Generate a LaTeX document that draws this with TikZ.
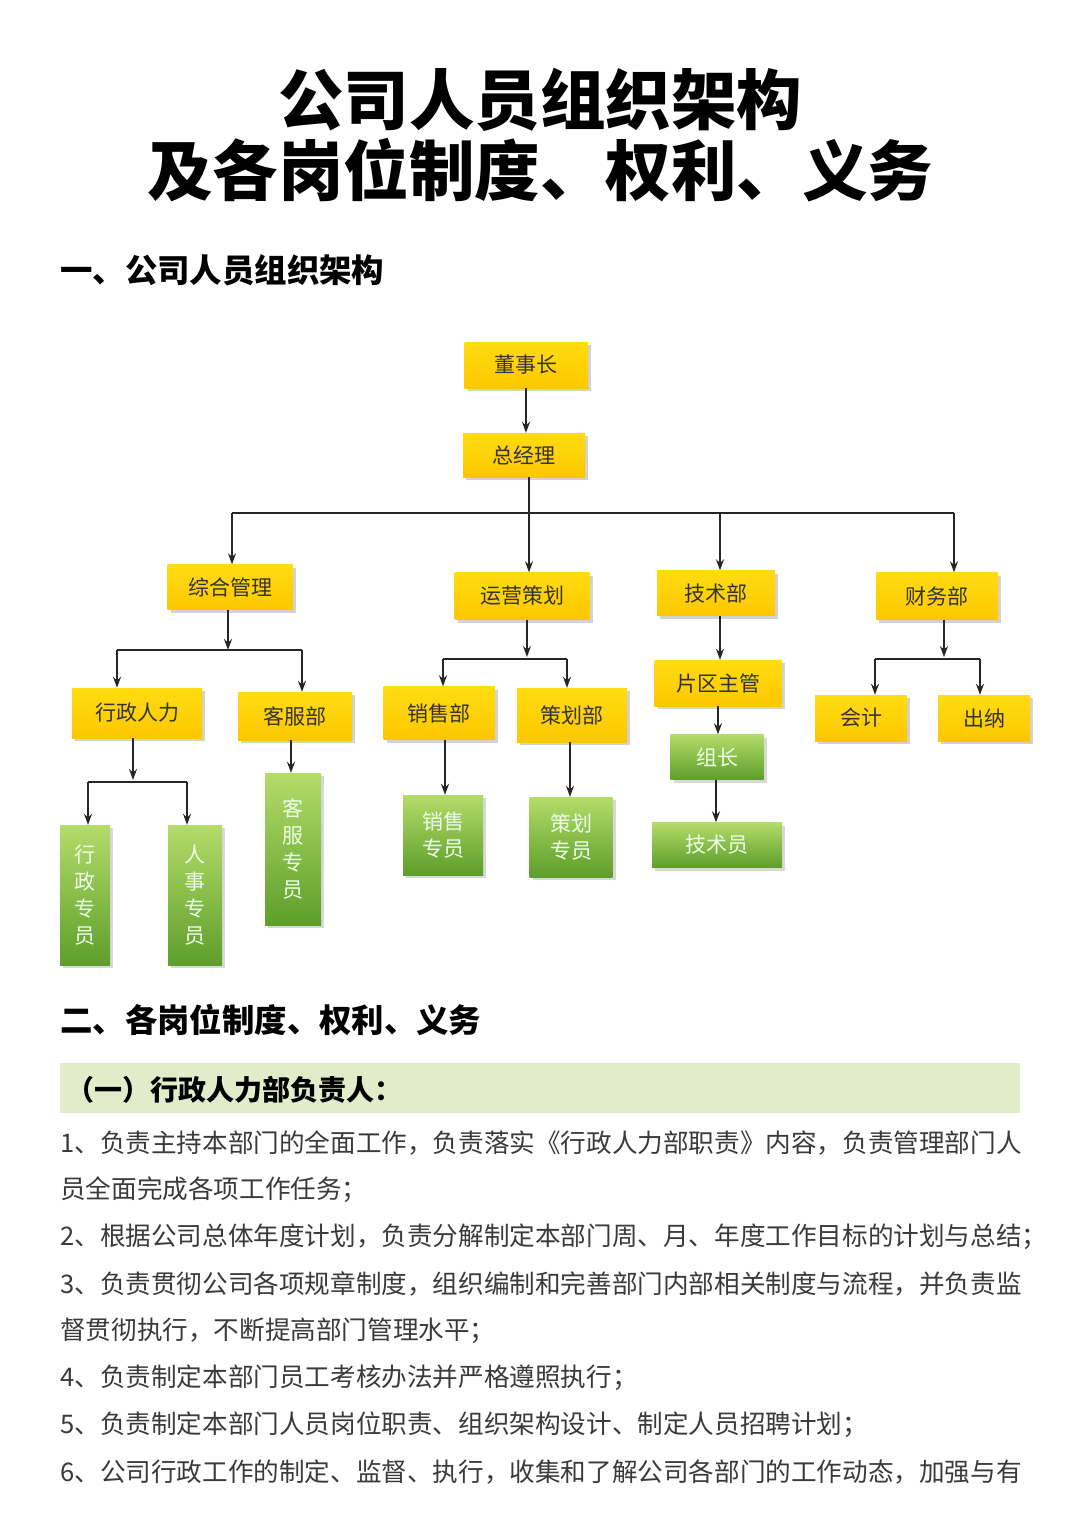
\documentclass[tikz,border=0pt]{standalone}
\usepackage{fontspec}
\setmainfont{Noto Sans CJK SC}
\usetikzlibrary{shadows,arrows.meta}
\definecolor{ybox}{HTML}{FDCB00}
\definecolor{ytop}{HTML}{FFDC10}
\definecolor{gtop}{HTML}{B4DC6A}
\definecolor{gbot}{HTML}{5E9E2A}
\definecolor{band}{HTML}{E2ECCB}
\definecolor{bodyc}{HTML}{3A3A3A}
\tikzset{
 ybx/.style={top color=ytop,bottom color=ybox!95!orange,minimum height=46pt,inner sep=2pt,font=\fontsize{21}{24}\selectfont,text=black!80,drop shadow={shadow xshift=3pt,shadow yshift=-3pt,opacity=0.35}},
 gbx/.style={top color=gtop,bottom color=gbot,inner sep=2pt,font=\fontsize{21}{27}\selectfont,text=white!92!green,drop shadow={shadow xshift=3pt,shadow yshift=-3pt,opacity=0.3},align=center},
 ln/.style={line width=1.3pt,black!85},
 arr/.style={ln,-{Stealth[length=11pt,width=8pt]}},
 body/.style={anchor=west,inner sep=0pt,text=bodyc,font=\fontsize{25.6}{27}\selectfont},
}
\begin{document}
\begin{tikzpicture}[x=1pt,y=-1pt]
\fill[white] (0,0) rectangle (1080,1529);
\useasboundingbox (0,0) rectangle (1080,1529);
\node[font=\fontsize{65.5}{72}\selectfont\bfseries] (t1) at (540,100) {公司人员组织架构};
\node[font=\fontsize{65.5}{72}\selectfont\bfseries] (t2) at (540,170) {及各岗位制度、权利、义务};
\node[anchor=west,inner sep=0pt,font=\fontsize{32.4}{36}\selectfont\bfseries] (s1) at (60,270) {一、公司人员组织架构};
% yellow boxes
\node[ybx,minimum width=123pt] (dsz) at (526,365) {董事长};
\node[ybx,minimum width=122pt,minimum height=44pt] (zjl) at (524,455) {总经理};
\node[ybx,minimum width=125pt,minimum height=45pt] (zh) at (230,587) {综合管理};
\node[ybx,minimum width=135pt,minimum height=47pt] (yy) at (522,596) {运营策划};
\node[ybx,minimum width=118pt,minimum height=45pt] (js) at (716,593) {技术部};
\node[ybx,minimum width=122pt,minimum height=47pt] (cw) at (937,596) {财务部};
\node[ybx,minimum width=130pt,minimum height=50pt] (xz) at (137,713) {行政人力};
\node[ybx,minimum width=114pt,minimum height=48pt] (kf) at (295,716) {客服部};
\node[ybx,minimum width=111pt,minimum height=53pt] (xs) at (439,713) {销售部};
\node[ybx,minimum width=110pt,minimum height=54pt] (ch) at (572,715) {策划部};
\node[ybx,minimum width=127pt,minimum height=46pt] (pq) at (718,683) {片区主管};
\node[ybx,minimum width=92pt,minimum height=46pt] (kj) at (861,718) {会计};
\node[ybx,minimum width=92pt,minimum height=46pt] (cn) at (984,718) {出纳};
% green boxes
\node[gbx,minimum width=50pt,minimum height=140pt] (xzzy) at (85,895) {行\\政\\专\\员};
\node[gbx,minimum width=54pt,minimum height=140pt] (rszy) at (195,895) {人\\事\\专\\员};
\node[gbx,minimum width=56pt,minimum height=152pt] (kfzy) at (293,849) {客\\服\\专\\员};
\node[gbx,minimum width=80pt,minimum height=80pt] (xszy) at (443,835) {销售\\专员};
\node[gbx,minimum width=83pt,minimum height=80pt] (chzy) at (571,837) {策划\\专员};
\node[gbx,minimum width=93pt,minimum height=45pt] (zz) at (717,757) {组长};
\node[gbx,minimum width=130pt,minimum height=45pt] (jsy) at (717,845) {技术员};
% connectors
\draw[arr] (dsz.south) -- (dsz.south |- zjl.north);
\coordinate (b1) at (529,513);
\draw[ln] (zjl.south -| b1) -- (b1);
\draw[ln] (232,513) -- (954,513);
\draw[arr] (232,513) -- (zh.north -| 232,0);
\draw[arr] (b1) -- (yy.north -| b1);
\draw[arr] (720,513) -- (js.north -| 720,0);
\draw[arr] (954,513) -- (cw.north -| 954,0);
% zonghe
\coordinate (c1) at (228,650);
\draw[arr] (zh.south -| c1) -- (c1);
\draw[ln] (117,650) -- (302,650);
\draw[arr] (117,650) -- (xz.north -| 117,0);
\draw[arr] (302,650) -- (kf.north -| 302,0);
\coordinate (c2) at (133,780);
\draw[arr] (xz.south -| c2) -- (c2);
\draw[ln] (88,782) -- (187,782);
\draw[arr] (88,782) -- (xzzy.north -| 88,0);
\draw[arr] (187,782) -- (rszy.north -| 187,0);
\draw[arr] (kf.south -| 291,0) -- (kfzy.north -| 291,0);
% yunying
\coordinate (c3) at (527,657);
\draw[arr] (yy.south -| c3) -- (c3);
\draw[ln] (443,659) -- (567,659);
\draw[arr] (443,659) -- (xs.north -| 443,0);
\draw[arr] (567,659) -- (ch.north -| 567,0);
\draw[arr] (xs.south -| 445,0) -- (xszy.north -| 445,0);
\draw[arr] (ch.south -| 570,0) -- (chzy.north -| 570,0);
% jishu
\draw[arr] (js.south -| 720,0) -- (pq.north -| 720,0);
\draw[arr] (pq.south -| 718,0) -- (zz.north -| 718,0);
\draw[arr] (zz.south -| 716,0) -- (jsy.north -| 716,0);
% caiwu
\coordinate (c4) at (944,657);
\draw[arr] (cw.south -| c4) -- (c4);
\draw[ln] (875,659) -- (980,659);
\draw[arr] (875,659) -- (kj.north -| 875,0);
\draw[arr] (980,659) -- (cn.north -| 980,0);
% section 2
\node[anchor=west,inner sep=0pt,font=\fontsize{32.4}{36}\selectfont\bfseries] (s2) at (60,1020) {二、各岗位制度、权利、义务};
\fill[band] (60,1063) rectangle (1020,1113);
\node[anchor=west,inner sep=0pt,font=\fontsize{28}{32}\selectfont\bfseries] (s3) at (66,1090) {（一）行政人力部负责人：};
\node[body] (l1) at (60,1143) {1、负责主持本部门的全面工作，负责落实《行政人力部职责》内容，负责管理部门人};
\node[body] (l2) at (60,1190) {员全面完成各项工作任务；};
\node[body] (l3) at (60,1237) {2、根据公司总体年度计划，负责分解制定本部门周、月、年度工作目标的计划与总结；};
\node[body] (l4) at (60,1284) {3、负责贯彻公司各项规章制度，组织编制和完善部门内部相关制度与流程，并负责监};
\node[body] (l5) at (60,1331) {督贯彻执行，不断提高部门管理水平；};
\node[body] (l6) at (60,1378) {4、负责制定本部门员工考核办法并严格遵照执行；};
\node[body] (l7) at (60,1425) {5、负责制定本部门人员岗位职责、组织架构设计、制定人员招聘计划；};
\node[body] (l8) at (60,1472) {6、公司行政工作的制定、监督、执行，收集和了解公司各部门的工作动态，加强与有};
\end{tikzpicture}
\end{document}
